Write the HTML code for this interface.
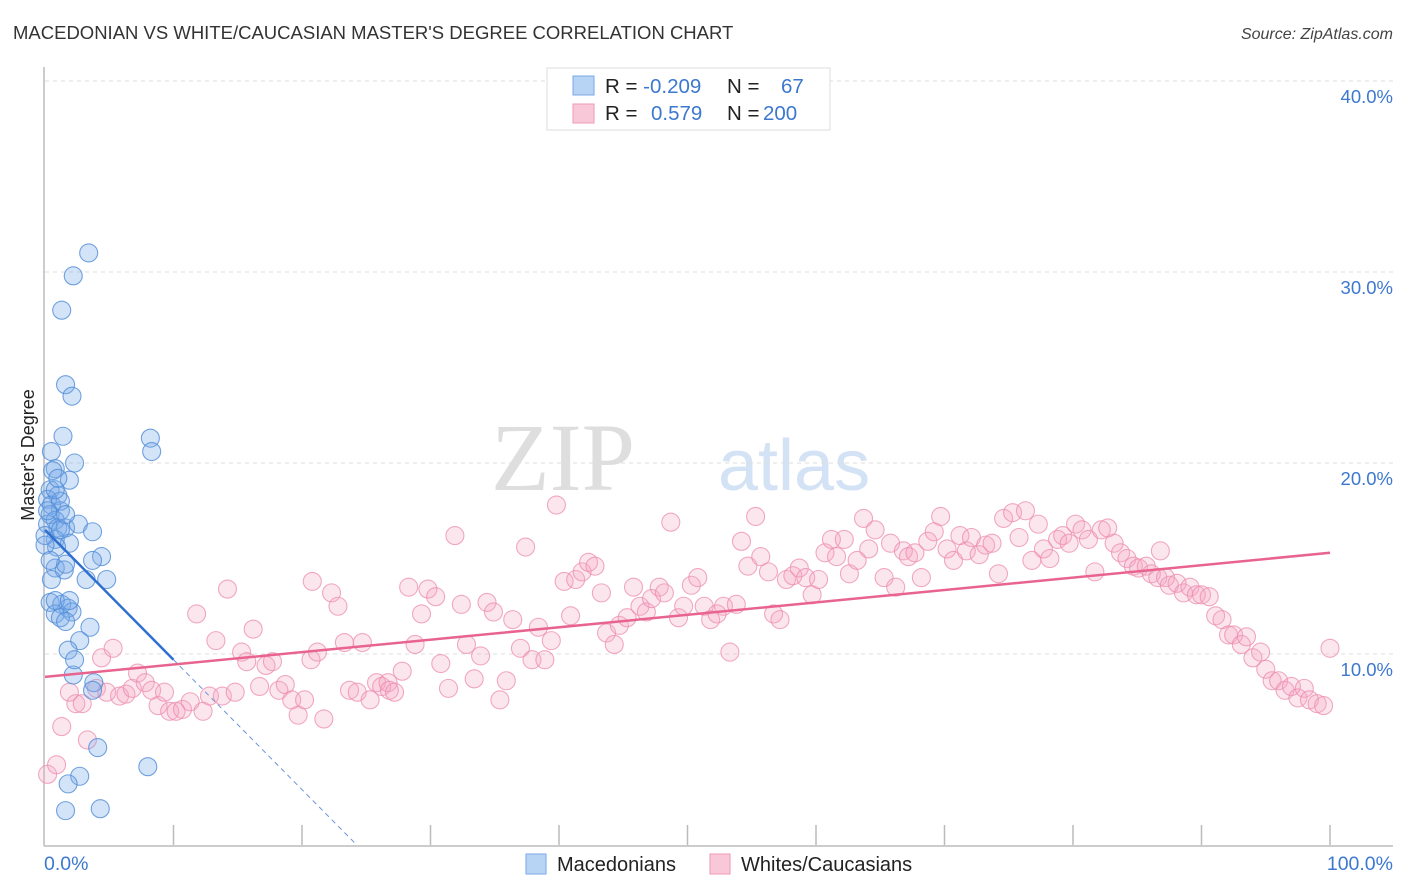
<!DOCTYPE html>
<html><head><meta charset="utf-8">
<style>
body{margin:0;background:#fff;font-family:"Liberation Sans",sans-serif;}
#wrap{position:relative;width:1406px;height:892px;overflow:hidden;}
</style></head>
<body>
<div id="wrap">
<svg id="chart" width="1406" height="892" xmlns="http://www.w3.org/2000/svg">
<text x="13" y="39" font-size="18.5" fill="#333">MACEDONIAN VS WHITE/CAUCASIAN MASTER'S DEGREE CORRELATION CHART</text>
<text x="1393" y="39" font-size="16" fill="#444" font-style="italic" text-anchor="end">Source: ZipAtlas.com</text>
<text transform="translate(34,455) rotate(-90)" font-size="18" fill="#222" text-anchor="middle">Master's Degree</text>
<g>
<text x="635" y="490" font-size="96" font-family="Liberation Serif,serif" fill="#dedede" text-anchor="end">ZIP</text>
<text x="718" y="490" font-size="72" fill="#d3e2f4">atlas</text>
</g>
<g id="grid"></g>
<g id="axes"></g>
<g id="marks"></g>
<g id="trend"></g>
<g>
<rect x="547" y="68" width="283" height="62" fill="#fff" stroke="#ddd"/>
<rect x="573" y="76" width="21" height="19" fill="#b8d4f5" stroke="#7aa9e3"/>
<rect x="573" y="104" width="21" height="19" fill="#f9c8d8" stroke="#ee9ab6"/>
<text x="605" y="93" font-size="20.5" fill="#222">R = <tspan fill="#3d78d0">-0.209</tspan><tspan x="727">N =</tspan><tspan x="781" fill="#3d78d0">67</tspan></text>
<text x="605" y="120" font-size="20.5" fill="#222">R = <tspan x="651" fill="#3d78d0">0.579</tspan><tspan x="727">N =</tspan><tspan x="763" fill="#3d78d0">200</tspan></text>
</g>
<g>
<rect x="526" y="854" width="20" height="20" fill="#b8d4f5" stroke="#7aa9e3"/>
<text x="557" y="871" font-size="20" fill="#222">Macedonians</text>
<rect x="710" y="854" width="20" height="20" fill="#f9c8d8" stroke="#ee9ab6"/>
<text x="741" y="871" font-size="20" fill="#222">Whites/Caucasians</text>
</g>
</svg>
</div>
<script>
const blueX=[3.4,2.2,1.3,1.6,2.1,1.4,8.2,8.3,0.5,2.3,0.8,0.6,1.9,0.4,1.0,0.2,0.5,1.2,0.4,0.8,0.2,1.0,1.6,2.6,3.7,0.8,1.9,4.4,3.7,0.8,1.5,1.6,3.2,4.8,0.4,1.3,1.8,0.8,2.1,1.2,1.6,3.5,2.7,1.8,2.2,3.8,3.7,4.1,8.0,2.7,1.8,1.6,4.3,0.8,0.5,0.9,1.2,0.0,0.0,0.4,1.2,1.9,2.3,1.6,0.8,0.2,1.0];
const blueY=[31.0,29.8,28.0,24.1,23.5,21.4,21.3,20.6,20.6,20.0,19.7,19.6,19.1,18.6,18.3,18.1,17.8,17.5,17.3,17.0,16.8,16.6,16.6,16.8,16.4,16.0,15.8,15.1,14.9,14.5,14.4,14.7,13.9,13.9,12.7,12.6,12.4,12.1,12.2,11.9,11.7,11.4,10.7,10.2,8.9,8.5,8.1,5.1,4.1,3.6,3.2,1.8,1.9,12.8,13.9,15.6,18.0,16.2,15.7,14.9,16.5,12.8,9.7,17.3,18.6,17.5,19.2];
const pinkX=[0.2,0.9,1.3,1.9,2.4,2.9,3.3,4.0,4.4,4.8,5.3,5.8,6.3,6.8,7.2,7.8,8.3,8.8,9.3,9.7,10.2,10.7,11.3,11.8,12.3,12.8,13.3,13.8,14.2,14.8,15.3,15.7,16.2,16.7,17.2,17.7,18.2,18.7,19.2,19.7,20.2,20.7,21.2,21.7,20.8,22.3,22.8,23.3,23.7,24.3,24.7,25.3,25.8,26.2,26.7,26.8,27.2,27.8,28.3,28.8,29.3,29.8,30.4,30.8,31.4,31.9,32.4,32.8,33.4,33.9,34.4,34.9,35.4,35.9,36.4,37.0,37.4,37.9,38.4,38.9,39.4,39.8,40.4,40.9,41.3,41.8,42.3,42.8,43.3,43.7,44.3,44.7,45.3,45.8,46.3,46.8,47.2,47.8,48.2,48.7,49.3,49.7,50.3,50.8,51.3,51.8,52.3,52.8,53.3,53.8,54.2,54.7,55.3,55.7,56.3,56.7,57.2,57.7,58.2,58.7,59.2,59.7,60.2,60.7,61.2,61.6,62.2,62.6,63.2,63.7,64.1,64.6,65.3,65.8,66.2,66.8,67.2,67.7,68.2,68.7,69.2,69.7,70.2,70.7,71.2,71.7,72.1,72.7,73.2,73.7,74.2,74.6,75.3,75.8,76.3,76.8,77.3,77.7,78.2,78.8,79.2,79.7,80.2,80.7,81.2,81.7,82.2,82.7,83.2,83.7,84.2,84.7,85.1,85.7,86.1,86.6,86.8,87.2,87.5,88.1,88.6,89.1,89.6,90.0,90.6,91.1,91.6,92.1,92.5,93.1,93.5,94.0,94.6,95.0,95.5,96.0,96.5,97.0,97.5,98.0,98.4,99.0,99.5,100.0];
const pinkY=[3.7,4.2,6.2,8.0,7.4,7.4,5.5,8.2,9.8,8.0,10.3,7.8,7.9,8.2,9.0,8.5,8.1,7.3,8.0,7.0,7.0,7.1,7.5,12.1,7.0,7.8,10.7,7.8,13.4,8.0,10.1,9.6,11.3,8.3,9.4,9.6,8.1,8.4,7.6,6.8,7.6,9.7,10.1,6.6,13.8,13.2,12.5,10.6,8.1,8.0,10.6,7.6,8.5,8.3,8.5,8.1,8.0,9.1,13.5,10.5,12.1,13.4,13.0,9.5,8.2,16.2,12.6,10.5,8.7,9.9,12.7,12.2,7.6,8.6,11.8,10.3,15.6,9.7,11.4,9.7,10.7,17.8,13.8,12.0,13.9,14.3,14.8,14.6,13.2,11.1,10.5,11.5,11.9,13.5,12.5,12.2,12.9,13.5,13.2,16.9,11.9,12.5,13.6,14.0,12.5,11.8,12.1,12.5,10.1,12.6,15.9,14.6,17.2,15.1,14.3,12.1,11.8,13.9,14.1,14.5,14.0,13.1,13.9,15.3,16.0,15.1,16.0,14.2,14.9,17.1,15.5,16.5,14.0,15.8,13.5,15.4,15.1,15.3,14.0,15.9,16.4,17.2,15.5,14.9,16.2,15.4,16.1,15.2,15.7,15.8,14.2,17.1,17.4,16.1,17.5,14.9,16.8,15.5,15.0,16.0,16.2,15.8,16.8,16.5,16.0,14.3,16.5,16.6,15.8,15.3,15.0,14.6,14.5,14.6,14.2,14.0,15.4,14.0,13.6,13.7,13.2,13.5,13.1,13.1,13.0,12.0,11.8,11.0,11.0,10.5,10.9,9.8,10.1,9.2,8.6,8.6,8.1,8.3,7.7,8.2,7.6,7.4,7.3,10.3];
const yTicks=[10,20,30,40];
const yTickLabels=["10.0%","20.0%","30.0%","40.0%"];
const xTicks=[0,10,20,30,40,50,60,70,80,90,100];
const pinkTrend=[8.8,15.3];
const blueTrend=[16.5,-0.68];

const NS="http://www.w3.org/2000/svg";
const X0=45,X1=1330,Y0=845,YPER=19.1;
function xs(v){return X0+(X1-X0)*v/100;}
function ys(v){return Y0-YPER*v;}
function mk(tag,attrs,parent){const e=document.createElementNS(NS,tag);for(const k in attrs)e.setAttribute(k,attrs[k]);parent.appendChild(e);return e;}
const grid=document.getElementById('grid'),axes=document.getElementById('axes'),marks=document.getElementById('marks'),trend=document.getElementById('trend');

yTicks.forEach((t,i)=>{
  const l=mk('line',{x1:X0,x2:1393,y1:ys(t),y2:ys(t),stroke:'#ddd','stroke-dasharray':'4,4'},grid);
  
  
  const tx=mk('text',{x:1393,y:ys(t)+22,'font-size':18.5,fill:'#3d78d0','text-anchor':'end'},axes);
  tx.textContent=yTickLabels[i];
  
  
});
const ya=mk('line',{x1:X0-1,x2:X0-1,y1:67,y2:Y0+1,stroke:'#bbb','stroke-width':1.5},axes);


const xa=mk('line',{x1:X0-1,x2:1393,y1:Y0+1,y2:Y0+1,stroke:'#bbb','stroke-width':1.5},axes);


xTicks.forEach(t=>{
  if(t===0)return;
  const l=mk('line',{x1:xs(t),x2:xs(t),y1:Y0-20,y2:Y0,stroke:'#bbb','stroke-width':1.5},axes);
  
  
});
const xl0=mk('text',{x:44,y:870,'font-size':19.5,fill:'#3d78d0'},axes);
xl0.textContent='0.0%';


const xl1=mk('text',{x:1393,y:870,'font-size':19.5,fill:'#3d78d0','text-anchor':'end'},axes);
xl1.textContent='100.0%';



pinkX.forEach((v,i)=>{
  const c=mk('circle',{cx:xs(v),cy:ys(pinkY[i]),r:9,fill:'rgba(245,165,195,0.28)',stroke:'rgba(236,140,175,0.75)','stroke-width':1.1},marks);
  
  
});
blueX.forEach((v,i)=>{
  const c=mk('circle',{cx:xs(v),cy:ys(blueY[i]),r:9,fill:'rgba(120,170,232,0.32)',stroke:'rgba(80,140,215,0.8)','stroke-width':1.1},marks);
  
  
});
const pt=mk('line',{x1:xs(0),y1:ys(pinkTrend[0]),x2:xs(100),y2:ys(pinkTrend[1]),stroke:'#e8648f','stroke-width':2.5},trend);


const bEnd=10, bZero=-blueTrend[0]/blueTrend[1];
const bt=mk('line',{x1:xs(0),y1:ys(blueTrend[0]),x2:xs(bEnd),y2:ys(blueTrend[0]+blueTrend[1]*bEnd),stroke:'#2f6fd0','stroke-width':2.5},trend);


const bd=mk('line',{x1:xs(bEnd),y1:ys(blueTrend[0]+blueTrend[1]*bEnd),x2:xs(bZero),y2:ys(0),stroke:'#6b95d6','stroke-width':1,'stroke-dasharray':'5,4'},trend);


</script>
</body></html>
